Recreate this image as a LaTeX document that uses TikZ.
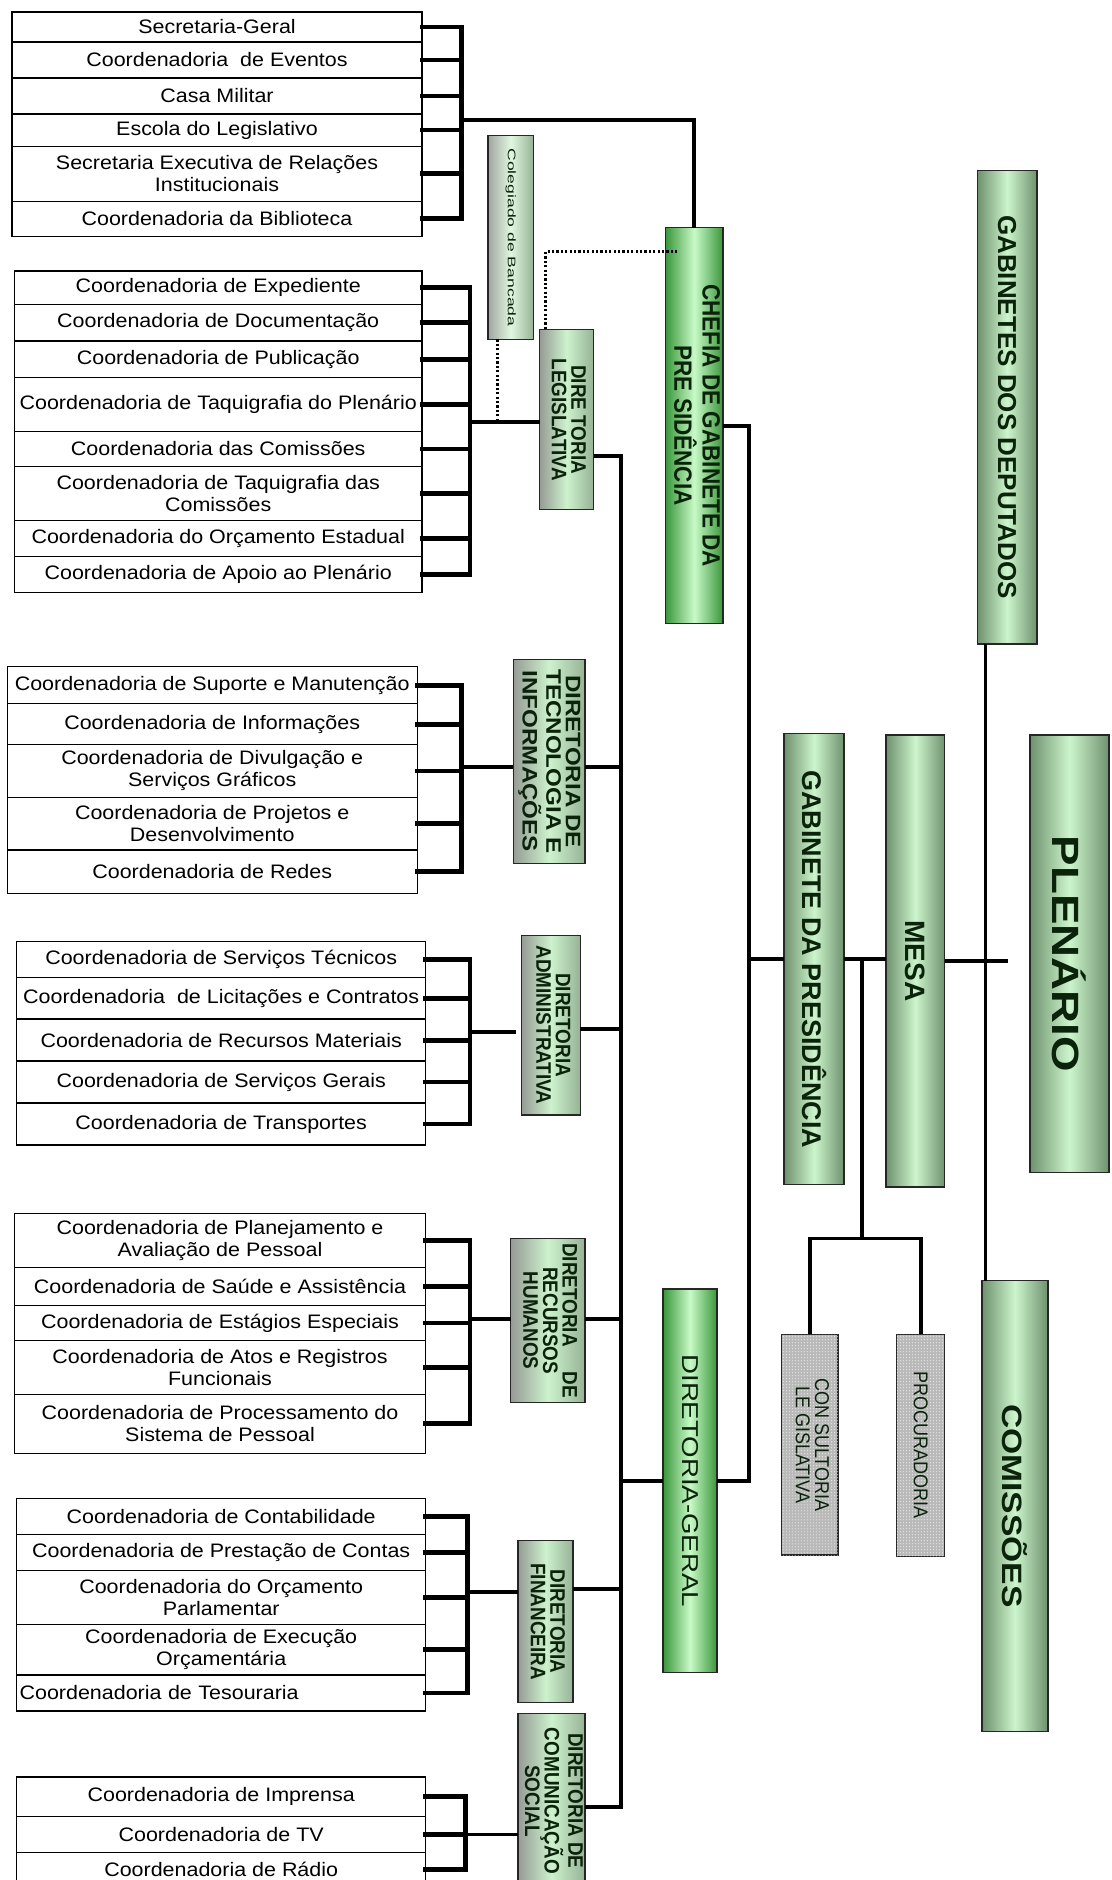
\documentclass[tikz,border=0pt]{standalone}
\usepackage{fontspec}
\usepackage{graphicx}
\setmainfont{Liberation Sans}[FakeStretch=1.1]
\newfontfamily\lbl{Liberation Sans}
\newfontfamily\lblc{Liberation Sans}[FakeStretch=0.9]
\newfontfamily\lblm{Liberation Sans}[FakeStretch=1.15]
\newfontfamily\lblw{Liberation Sans}[FakeStretch=1.2]
\newfontfamily\lblxw{Liberation Sans}[FakeStretch=1.6]
\usetikzlibrary{patterns}
\newcommand\vlbl[2][c]{\rotatebox{-90}{\begin{tabular}{@{}#1@{}}#2\end{tabular}}}
\definecolor{vivid}{RGB}{58,150,58}
\definecolor{vividmid}{RGB}{200,250,200}
\definecolor{muted}{RGB}{110,145,110}
\definecolor{mutedmid}{RGB}{205,245,205}
\definecolor{dirgray}{RGB}{150,155,150}
\definecolor{dirgreen}{RGB}{150,178,150}
\definecolor{dirmid}{RGB}{205,242,205}
\definecolor{consgray}{RGB}{185,185,185}
\definecolor{txtgreen}{RGB}{10,35,10}
\begin{document}
\begin{tikzpicture}[x=1.1985pt,y=-1.1985pt,
 span/.style n args={4}{at={({(#1+#3)/2},{(#2+#4)/2})},
   minimum width={(#3-#1)*1.1985pt}, minimum height={(#4-#2)*1.1985pt}},
 cbox/.style={draw=black, line width=1.3pt, fill=white, inner sep=0pt, outer sep=0pt, align=center,
   font=\fontsize{19.5}{22}\selectfont},
 vnode/.style={draw=black!85, line width=1.3pt, inner sep=0pt, outer sep=0pt, text=txtgreen},
 greenA/.style={vnode, left color=vivid, right color=vivid, middle color=vividmid},
 greenB/.style={vnode, left color=muted, right color=muted, middle color=mutedmid},
 dirbox/.style={vnode, left color=dirgray, right color=dirgreen, middle color=dirmid,
   font=\lblc\bfseries\fontsize{21}{16.5}\selectfont},
 consbox/.style={vnode, fill=consgray, postaction={pattern=dots, pattern color=white},
   font=\lblc\fontsize{20}{17}\selectfont},
 conn/.style={line width=3.8pt},
 brk/.style={line width=4.8pt, line cap=rect},
 dotconn/.style={line width=2.8pt, dash pattern=on 2.2pt off 2.2pt},
]
\useasboundingbox[fill=white] (0,0) rectangle (927,1568);

% ---------- group 1
\node[cbox, span={10}{10}{352}{35}] (g1a) {Secretaria-Geral};
\node[cbox, span={10}{35}{352}{65}] (g1b) {Coordenadoria\ \ de Eventos};
\node[cbox, span={10}{65}{352}{95}] (g1c) {Casa Militar};
\node[cbox, span={10}{95}{352}{122}] (g1d) {Escola do Legislativo};
\node[cbox, span={10}{122}{352}{168}] (g1e) {Secretaria Executiva de Relações\\Institucionais};
\node[cbox, span={10}{168}{352}{197}] (g1f) {Coordenadoria da Biblioteca};

% ---------- group 2
\node[cbox, span={12}{226}{352}{254}] (g2a) {Coordenadoria de Expediente};
\node[cbox, span={12}{254}{352}{284}] (g2b) {Coordenadoria de Documentação};
\node[cbox, span={12}{285}{352}{315}] (g2c) {Coordenadoria de Publicação};
\node[cbox, span={12}{315}{352}{360}] (g2d) {Coordenadoria de Taquigrafia do Plenário};
\node[cbox, span={12}{360}{352}{389}] (g2e) {Coordenadoria das Comissões};
\node[cbox, span={12}{389}{352}{434}] (g2f) {Coordenadoria de Taquigrafia das\\Comissões};
\node[cbox, span={12}{434}{352}{464}] (g2g) {Coordenadoria do Orçamento Estadual};
\node[cbox, span={12}{464}{352}{494}] (g2h) {Coordenadoria de Apoio ao Plenário};

% ---------- group 3
\node[cbox, span={6}{556}{348}{587}] (g3a) {Coordenadoria de Suporte e Manutenção};
\node[cbox, span={6}{587}{348}{621}] (g3b) {Coordenadoria de Informações};
\node[cbox, span={6}{621}{348}{665}] (g3c) {Coordenadoria de Divulgação e\\Serviços Gráficos};
\node[cbox, span={6}{665}{348}{709}] (g3d) {Coordenadoria de Projetos e\\Desenvolvimento};
\node[cbox, span={6}{709}{348}{745}] (g3e) {Coordenadoria de Redes};

% ---------- group 4
\node[cbox, span={14}{785}{355}{815}] (g4a) {Coordenadoria de Serviços Técnicos};
\node[cbox, span={14}{815}{355}{850}] (g4b) {Coordenadoria\ \ de Licitações e Contratos};
\node[cbox, span={14}{850}{355}{885}] (g4c) {Coordenadoria de Recursos Materiais};
\node[cbox, span={14}{885}{355}{920}] (g4d) {Coordenadoria de Serviços Gerais};
\node[cbox, span={14}{920}{355}{955}] (g4e) {Coordenadoria de Transportes};

% ---------- group 5
\node[cbox, span={12}{1012}{355}{1057}] (g5a) {Coordenadoria de Planejamento e\\Avaliação de Pessoal};
\node[cbox, span={12}{1057}{355}{1089}] (g5b) {Coordenadoria de Saúde e Assistência};
\node[cbox, span={12}{1089}{355}{1118}] (g5c) {Coordenadoria de Estágios Especiais};
\node[cbox, span={12}{1118}{355}{1163}] (g5d) {Coordenadoria de Atos e Registros\\Funcionais};
\node[cbox, span={12}{1163}{355}{1212}] (g5e) {Coordenadoria de Processamento do\\Sistema de Pessoal};

% ---------- group 6
\node[cbox, span={14}{1250}{355}{1280}] (g6a) {Coordenadoria de Contabilidade};
\node[cbox, span={14}{1280}{355}{1310}] (g6b) {Coordenadoria de Prestação de Contas};
\node[cbox, span={14}{1310}{355}{1355}] (g6c) {Coordenadoria do Orçamento\\Parlamentar};
\node[cbox, span={14}{1355}{355}{1397}] (g6d) {Coordenadoria de Execução\\Orçamentária};
\node[cbox, span={14}{1397}{355}{1427}, align=left, text width=403pt, inner xsep=2pt] (g6e) {Coordenadoria de Tesouraria};

% ---------- group 7
\node[cbox, span={14}{1482}{355}{1515}] (g7a) {Coordenadoria de Imprensa};
\node[cbox, span={14}{1515}{355}{1545}] (g7b) {Coordenadoria de TV};
\node[cbox, span={14}{1545}{355}{1574}] (g7c) {Coordenadoria de Rádio};

% ---------- vertical boxes
\node[vnode, left color=dirgray!90, right color=dirgreen, middle color=dirmid!60!white,
  font=\lblxw\fontsize{11}{12}\selectfont, span={407}{113}{445}{283}] (coleg) {\rotatebox{-90}{Colegiado de Bancada}};
\node[greenA, font=\lblc\bfseries\fontsize{25}{19.5}\selectfont, span={555}{190}{603}{520}] (chefia)
  {\vlbl{CHEFIA DE GABINETE DA\\PRE SIDÊNCIA}};
\node[dirbox, span={450}{275}{495}{425}] (dirleg) {\vlbl{DIRE TORIA\\LEGISLATIVA}};
\node[dirbox, font=\lblm\bfseries\fontsize{21}{16.5}\selectfont, span={428}{550}{488}{720}] (dirtec)
  {\vlbl{DIRETORIA DE\\TECNOLOGIA E\\INFORMAÇÕES}};
\node[dirbox, span={435}{780}{484}{930}] (diradm) {\vlbl{DIRETORIA\\ADMINISTRATIVA}};
\node[dirbox, span={426}{1033}{488}{1170}] (dirrh) {\vlbl{DIRETORIA\hspace{1.2em}DE\\RECURSOS\\HUMANOS}};
\node[dirbox, span={432}{1285}{478}{1420}] (dirfin) {\vlbl{DIRETORIA\\FINANCEIRA}};
\node[dirbox, span={432}{1429}{488}{1575}] (dircom) {\vlbl{DIRETORIA DE\\COMUNICAÇÃO\\SOCIAL}};
\node[greenA, font=\lblw\fontsize{23}{24}\selectfont, span={553}{1075}{598}{1395}] (dg) {\rotatebox{-90}{DIRETORIA-GERAL}};

\node[greenB, font=\lbl\bfseries\fontsize{26}{28}\selectfont, span={815}{142}{865}{537}] (gdd) {\rotatebox{-90}{GABINETES DOS DEPUTADOS}};
\node[greenB, font=\lbl\bfseries\fontsize{27}{28}\selectfont, span={654}{612}{704}{988}] (gp) {\rotatebox{-90}{GABINETE DA PRESIDÊNCIA}};
\node[greenB, font=\lbl\bfseries\fontsize{28}{28}\selectfont, span={739}{613}{788}{990}] (mesa) {\rotatebox{-90}{MESA}};
\node[greenB, font=\lblw\bfseries\fontsize{38}{40}\selectfont, span={859}{613}{925}{978}] (plen) {\rotatebox{-90}{PLENÁRIO}};
\node[greenB, font=\lblw\bfseries\fontsize{28}{30}\selectfont, span={819}{1068}{874}{1444}] (com) {\rotatebox{-90}{COMISSÕES}};
\node[consbox, span={652}{1113}{699}{1297}] (cons) {\vlbl{CON SULTORIA\\LE GISLATIVA}};
\node[consbox, span={748}{1113}{788}{1298}] (proc) {\rotatebox{-90}{PROCURADORIA}};

% ---------- brackets
\coordinate (b1) at (385,0);
\foreach \n in {g1a,g1b,g1c,g1d,g1e,g1f} \draw[brk] (\n.east) -- (\n.east -| b1);
\draw[brk] (g1a.east -| b1) -- (g1f.east -| b1);
\coordinate (b2) at (392,0);
\foreach \n in {g2a,g2b,g2c,g2d,g2e,g2f,g2g,g2h} \draw[brk] (\n.east) -- (\n.east -| b2);
\draw[brk] (g2a.east -| b2) -- (g2h.east -| b2);
\coordinate (b3) at (385,0);
\foreach \n in {g3a,g3b,g3c,g3d,g3e} \draw[brk] (\n.east) -- (\n.east -| b3);
\draw[brk] (g3a.east -| b3) -- (g3e.east -| b3);
\coordinate (b4) at (392,0);
\foreach \n in {g4a,g4b,g4c,g4d,g4e} \draw[brk] (\n.east) -- (\n.east -| b4);
\draw[brk] (g4a.east -| b4) -- (g4e.east -| b4);
\coordinate (b5) at (392,0);
\foreach \n in {g5a,g5b,g5c,g5d,g5e} \draw[brk] (\n.east) -- (\n.east -| b5);
\draw[brk] (g5a.east -| b5) -- (g5e.east -| b5);
\coordinate (b6) at (390,0);
\foreach \n in {g6a,g6b,g6c,g6d,g6e} \draw[brk] (\n.east) -- (\n.east -| b6);
\draw[brk] (g6a.east -| b6) -- (g6e.east -| b6);
\coordinate (b7) at (388,0);
\foreach \n in {g7a,g7b,g7c} \draw[brk] (\n.east) -- (\n.east -| b7);
\draw[brk] (g7a.east -| b7) -- (g7c.east -| b7);

% ---------- bracket to directorates
\coordinate (t1) at (385,100);
\draw[conn] (t1) -- (chefia.north |- t1) -- (chefia.north);
\draw[conn] (b2 |- 0,352) -- (dirleg.west |- 0,352);
\draw[conn] (b3 |- 0,640) -- (dirtec.west |- 0,640);
\draw[conn] (b4 |- 0,861) -- ([xshift=-6pt]diradm.west |- 0,861);
\draw[conn] (b5 |- 0,1100) -- (dirrh.west |- 0,1100);
\draw[conn] (b6 |- 0,1328) -- (dirfin.west |- 0,1328);
\draw[conn] (b7 |- 0,1530) -- (dircom.west |- 0,1530);

% ---------- trunk
\coordinate (t3) at (518,380);
\coordinate (t4) at (518,1507);
\draw[conn] (dirleg.east |- t3) -- (t3) -- (t4) -- (dircom.east |- t4);
\draw[conn] (dirtec.east |- 0,640) -- (t3 |- 0,640);
\draw[conn] (diradm.east |- 0,858) -- (t3 |- 0,858);
\draw[conn] (dirrh.east |- 0,1100) -- (t3 |- 0,1100);
\draw[conn] (dirfin.east |- 0,1325) -- (t3 |- 0,1325);
\draw[conn] (t3 |- dg.west) -- (dg.west);

% ---------- chefia / gabinete
\coordinate (cx) at (625,0);
\draw[conn] (chefia.east) -- (cx |- chefia.east) -- (cx |- dg.east) -- (dg.east);
\draw[conn] (cx |- gp.west) -- (gp.west);
\draw[conn] (gp.east) -- (mesa.west |- gp.east);
\coordinate (mb) at (719,1033);
\draw[conn] (mb |- gp.east) -- (mb);
\draw[conn] (cons.north) -- (cons.north |- mb) -- (proc.north |- mb) -- (proc.north);
\draw[conn, shorten >=22pt] (mesa.east) -- (mesa.east -| plen.west);
\coordinate (vx) at (822,0);
\draw[conn] (vx |- gdd.south) -- (vx |- com.north);

% ---------- dotted links
\coordinate (dotend) at (565,210);
\coordinate (dl) at (455,210);
\draw[dotconn] (dotend) -- (dl) -- (dl |- dirleg.north);
\coordinate (cd) at (415,352);
\draw[dotconn] (cd |- coleg.south) -- (cd);
\end{tikzpicture}
\end{document}
